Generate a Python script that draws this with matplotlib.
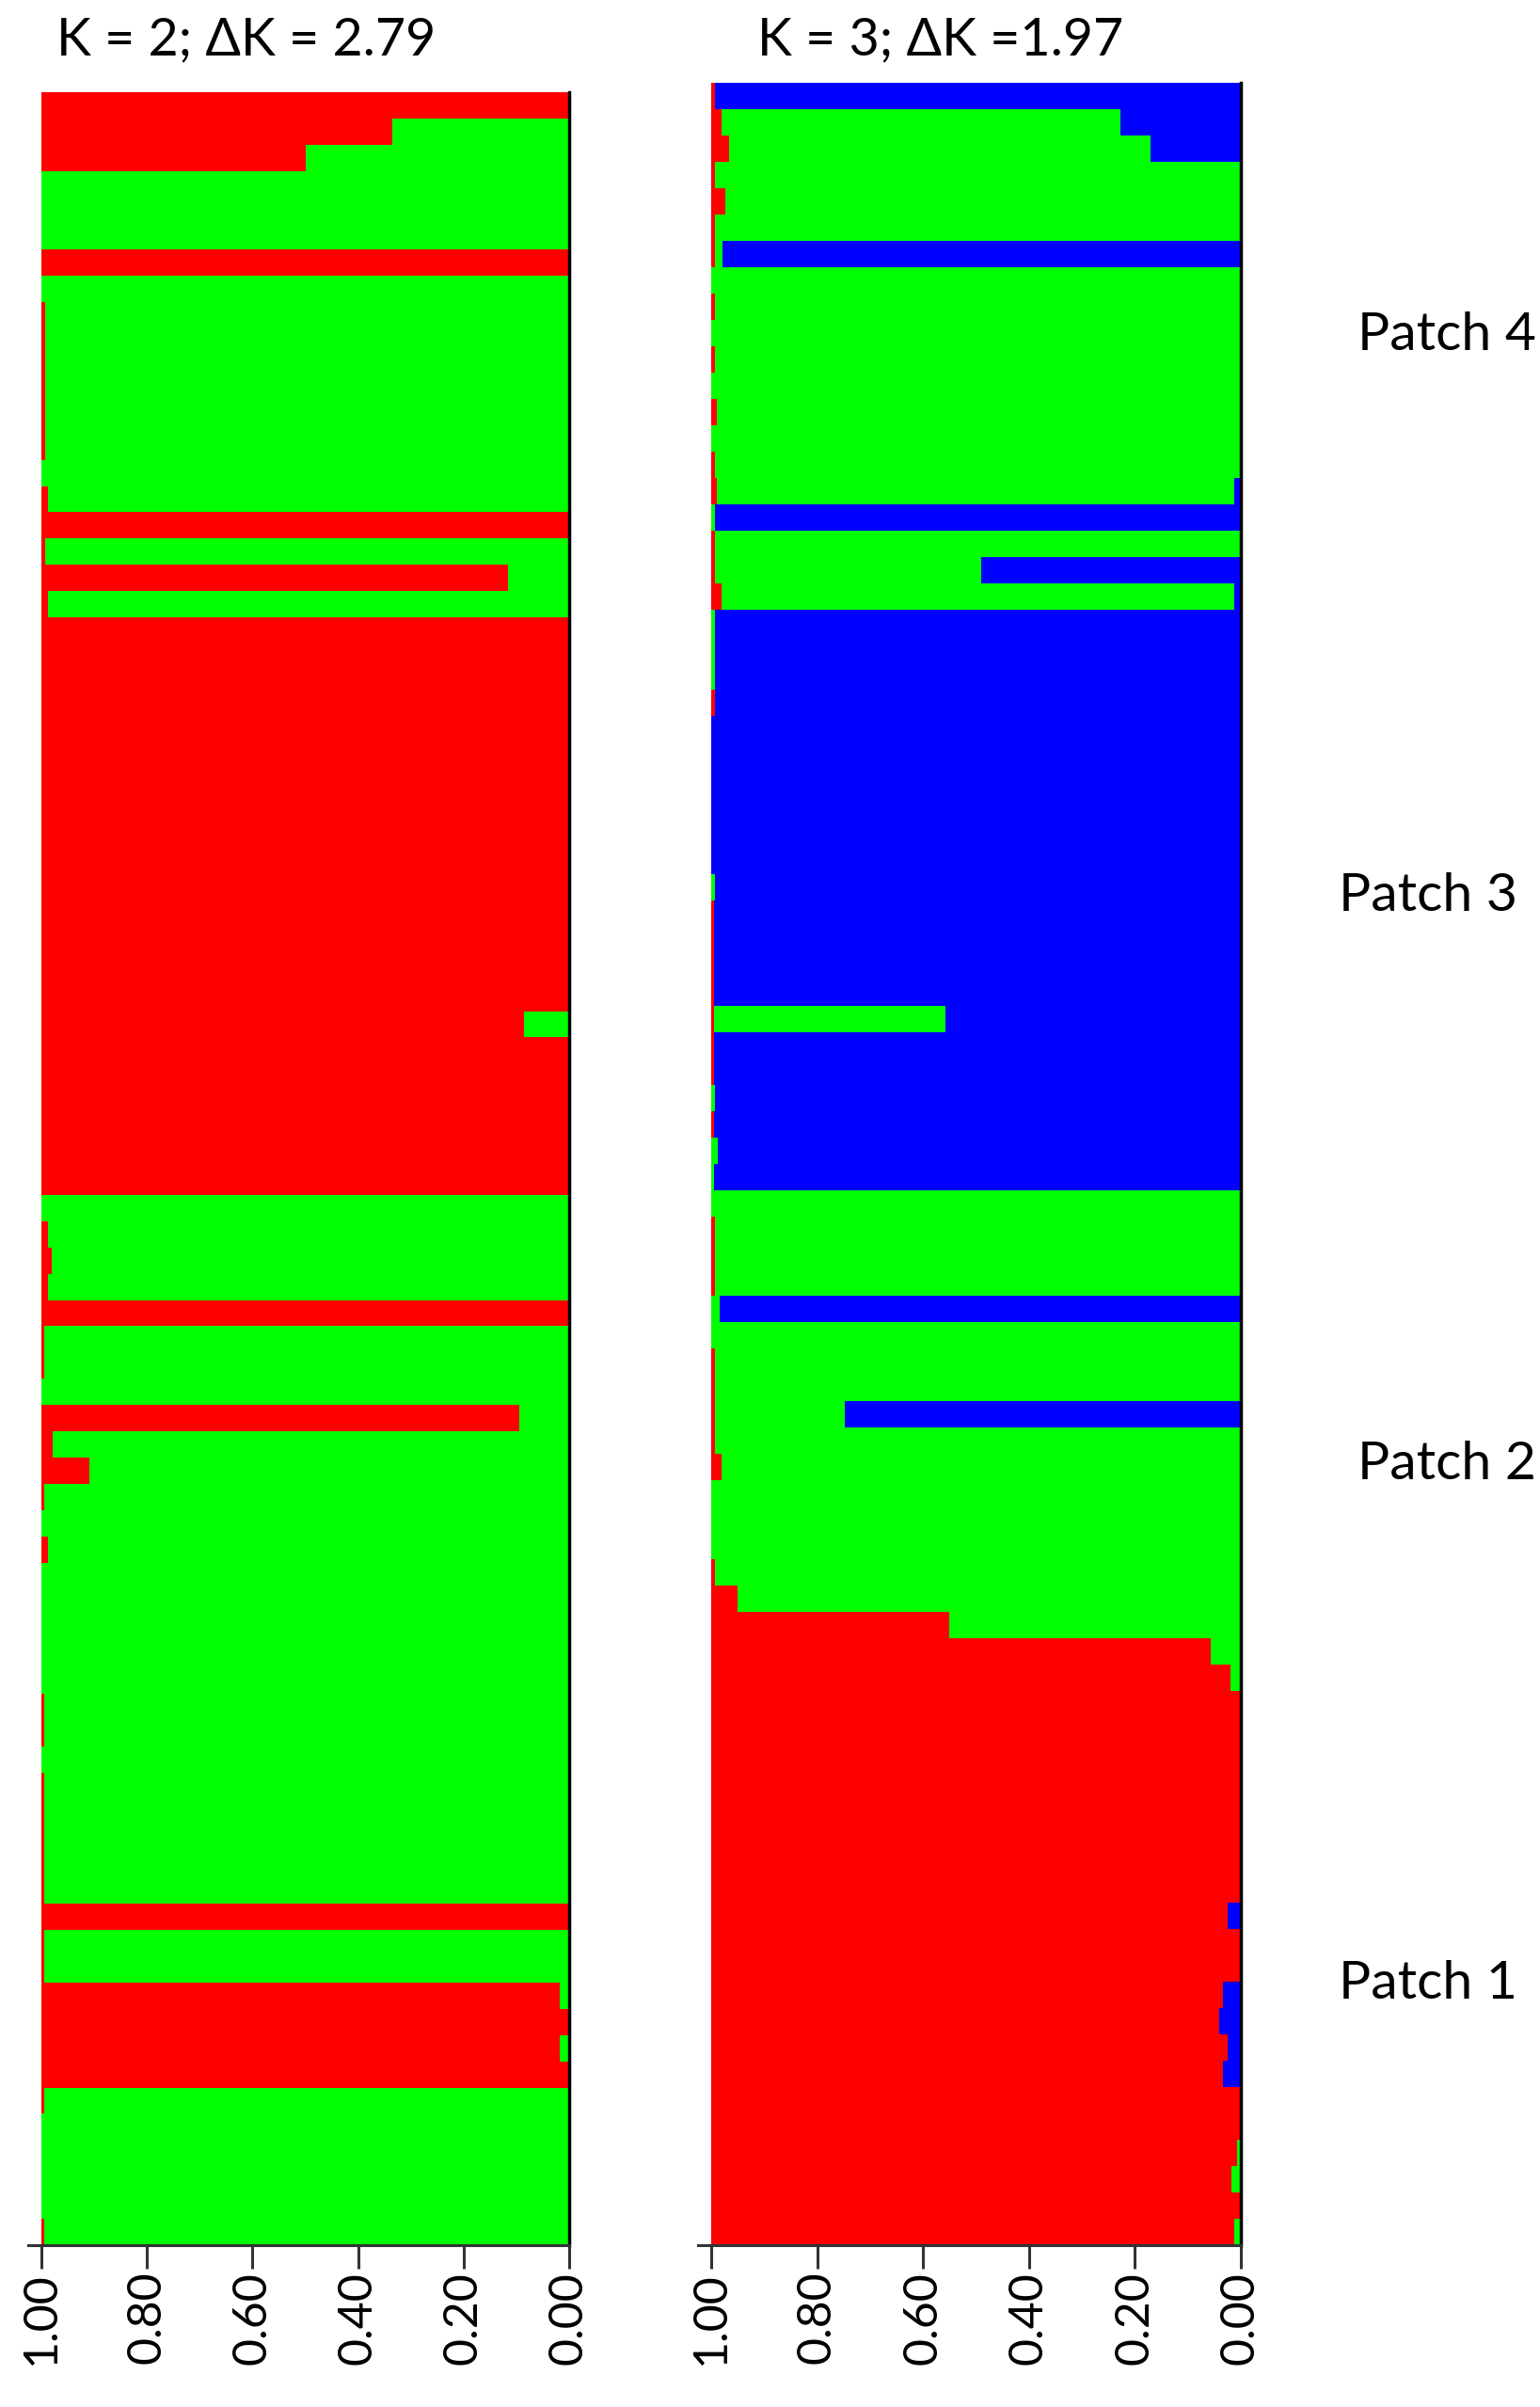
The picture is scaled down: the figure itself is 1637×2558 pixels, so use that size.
import matplotlib
matplotlib.use('Agg')
import matplotlib.pyplot as plt
import numpy as np

# K = 2 : red ancestry per individual (green is the rest), top row first
k2_red = [
    1.0, 0.665, 0.50, 0.0, 0.0, 0.0, 1.0, 0.0, 0.007, 0.007,
    0.007, 0.007, 0.007, 0.007, 0.0, 0.013, 1.0, 0.007, 0.885, 0.013,
    1.0, 1.0, 1.0, 1.0, 1.0, 1.0, 1.0, 1.0, 1.0, 1.0,
    1.0, 1.0, 1.0, 1.0, 1.0, 0.914, 1.0, 1.0, 1.0, 1.0,
    1.0, 1.0, 0.0, 0.013, 0.02, 0.013, 1.0, 0.006, 0.006, 0.0,
    0.906, 0.022, 0.091, 0.006, 0.0, 0.013, 0.0, 0.0, 0.0, 0.0,
    0.0, 0.006, 0.006, 0.0, 0.006, 0.006, 0.006, 0.006, 0.006, 1.0,
    0.006, 0.006, 0.983, 1.0, 0.983, 1.0, 0.006, 0.0, 0.0, 0.0,
    0.0, 0.006,
]

# K = 3 : red / green / blue ancestry per individual
k3_red = [
    0.007, 0.02, 0.034, 0.007, 0.027, 0.007, 0.007, 0.0, 0.007, 0.0,
    0.007, 0.0, 0.011, 0.0, 0.007, 0.011, 0.0, 0.007, 0.007, 0.02,
    0.0, 0.0, 0.0, 0.007, 0.0, 0.0, 0.0, 0.0, 0.0, 0.0,
    0.0, 0.005, 0.005, 0.005, 0.005, 0.006, 0.005, 0.005, 0.0, 0.005,
    0.0, 0.0, 0.0, 0.007, 0.007, 0.007, 0.0, 0.0, 0.007, 0.007,
    0.007, 0.007, 0.02, 0.0, 0.0, 0.0, 0.007, 0.049, 0.45, 0.943,
    0.98, 1.0, 1.0, 1.0, 1.0, 1.0, 1.0, 1.0, 1.0, 0.975,
    1.0, 1.0, 0.966, 0.96, 0.975, 0.966, 1.0, 1.0, 0.993, 0.983,
    1.0, 0.988,
]
k3_green = [
    0.0, 0.752, 0.795, 0.993, 0.973, 0.993, 0.015, 1.0, 0.993, 1.0,
    0.993, 1.0, 0.989, 1.0, 0.993, 0.976, 0.007, 0.993, 0.503, 0.967,
    0.007, 0.007, 0.007, 0.0, 0.0, 0.0, 0.0, 0.0, 0.0, 0.0,
    0.007, 0.0, 0.0, 0.0, 0.0, 0.437, 0.0, 0.0, 0.007, 0.0,
    0.013, 0.005, 1.0, 0.993, 0.993, 0.993, 0.015, 1.0, 0.993, 0.993,
    0.245, 0.993, 0.98, 1.0, 1.0, 1.0, 0.993, 0.951, 0.55, 0.057,
    0.02, 0.0, 0.0, 0.0, 0.0, 0.0, 0.0, 0.0, 0.0, 0.0,
    0.0, 0.0, 0.0, 0.0, 0.0, 0.0, 0.0, 0.0, 0.007, 0.017,
    0.0, 0.012,
]
k3_blue = [
    0.993, 0.228, 0.171, 0.0, 0.0, 0.0, 0.978, 0.0, 0.0, 0.0,
    0.0, 0.0, 0.0, 0.0, 0.0, 0.013, 0.993, 0.0, 0.49, 0.013,
    0.993, 0.993, 0.993, 0.993, 1.0, 1.0, 1.0, 1.0, 1.0, 1.0,
    0.993, 0.995, 0.995, 0.995, 0.995, 0.557, 0.995, 0.995, 0.993, 0.995,
    0.987, 0.995, 0.0, 0.0, 0.0, 0.0, 0.985, 0.0, 0.0, 0.0,
    0.748, 0.0, 0.0, 0.0, 0.0, 0.0, 0.0, 0.0, 0.0, 0.0,
    0.0, 0.0, 0.0, 0.0, 0.0, 0.0, 0.0, 0.0, 0.0, 0.025,
    0.0, 0.0, 0.034, 0.04, 0.025, 0.034, 0.0, 0.0, 0.0, 0.0,
    0.0, 0.0,
]

titles = ['K = 2; \u0394K = 2.79', 'K = 3; \u0394K =1.97']
patch_labels = ['Patch 4', 'Patch 3', 'Patch 2', 'Patch 1']
tick_vals = [1.0, 0.8, 0.6, 0.4, 0.2, 0.0]
tick_labels = ['1.00', '0.80', '0.60', '0.40', '0.20', '0.00']

RED, GREEN, BLUE = '#ff0000', '#00ff00', '#0000ff'
FONT = ['Lato', 'DejaVu Sans']
plt.rcParams['font.family'] = FONT

W, H = 1637, 2558
fig = plt.figure(figsize=(W / 100, H / 100), dpi=100)


def stack_panel(ax, comps, colors):
    # stack from the right edge (0.00) leftwards: last component first
    n = len(comps[0])
    y = np.arange(n)
    left = np.zeros(n)
    for vals, col in zip(reversed(comps), reversed(colors)):
        vals = np.array(vals)
        ax.barh(y, vals, left=left, height=1.0, color=col, linewidth=0)
        left = left + vals
    ax.set_xlim(1.025, 0)
    ax.set_ylim(n - 0.5, -0.5)
    ax.set_yticks([])
    ax.set_xticks(tick_vals)
    ax.set_xticklabels(tick_labels, rotation=90, fontsize=36, va='top')
    ax.tick_params(axis='x', length=18, width=2.2, color='#333333', pad=2)
    ax.spines['left'].set_visible(False)
    ax.spines['top'].set_visible(False)
    ax.spines['bottom'].set_linewidth(2.2)
    ax.spines['bottom'].set_color('#333333')
    ax.spines['right'].set_linewidth(2.5)
    ax.spines['right'].set_color('black')
    ax.set_facecolor('white')


ax1 = fig.add_axes([30 / W, 1 - 2386 / H, 575 / W, 2288 / H])
green2 = [1 - r for r in k2_red]
stack_panel(ax1, [k2_red, green2], [RED, GREEN])

ax2 = fig.add_axes([742 / W, 1 - 2386 / H, 577 / W, 2298 / H])
stack_panel(ax2, [k3_red, k3_green, k3_blue], [RED, GREEN, BLUE])

fig.text(60 / W, 1 - 43 / H, titles[0], fontsize=40, ha='left', va='center')
fig.text(805 / W, 1 - 43 / H, titles[1], fontsize=40, ha='left', va='center')

patch_x = [1443, 1423, 1443, 1423]
patch_y = [356, 953, 1557, 2109]
for lab, px, py in zip(patch_labels, patch_x, patch_y):
    fig.text(px / W, 1 - py / H, lab, fontsize=41, ha='left', va='center')

fig.savefig('out.png', dpi=100, facecolor='white')
